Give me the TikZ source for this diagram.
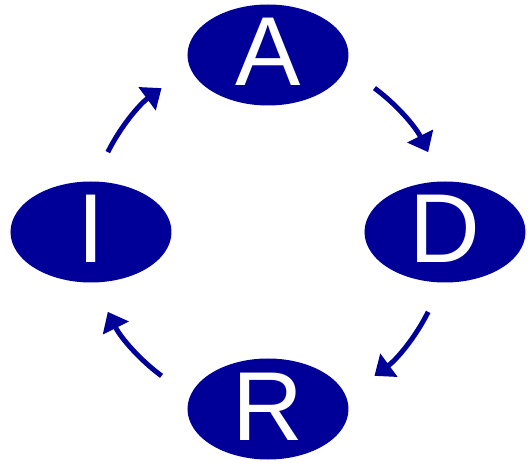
\documentclass[tikz,border=0pt]{standalone}
\usepackage{fontspec}
\setmainfont{Liberation Sans}
\usetikzlibrary{arrows.meta,shapes.geometric}
\definecolor{navy}{RGB}{0,0,153}

\begin{document}
\begin{tikzpicture}
\def \radius {177pt}
\def \arcr {179pt}
\useasboundingbox (-268pt,-231pt) rectangle (260pt,232pt);
\tikzset{state/.style={ellipse, fill=navy, text=white, minimum width=161pt, minimum height=101pt,
    inner xsep=0pt, inner ysep=-5pt, text height=70pt, text depth=8pt, font=\fontsize{98}{98}\selectfont},
  flow/.style={-{Triangle[length=18pt,width=28pt]}, line width=5pt, draw=navy}}

\node[state] at ({90}:\radius) (nA) {A};
\node[state] at ({0}:\radius) (nD) {D};
\node[state] at ({270}:\radius) (nR) {R};
\node[state] at ({180}:\radius) (nI) {I};

% arc starts
\coordinate (sI) at ({153.5}:\arcr);
\coordinate (sA) at ({53.5}:\arcr);
\coordinate (sD) at ({-26.5}:\arcr);
\coordinate (sR) at ({-126.5}:\arcr);

\draw[flow] (sI) arc[start angle=153.5, end angle=126.5, radius=\arcr];
\draw[flow] (sA) arc[start angle=53.5, end angle=26.5, radius=\arcr];
\draw[flow] (sD) arc[start angle=-26.5, end angle=-53.5, radius=\arcr];
\draw[flow] (sR) arc[start angle=-126.5, end angle=-153.5, radius=\arcr];

\end{tikzpicture}
\end{document}
